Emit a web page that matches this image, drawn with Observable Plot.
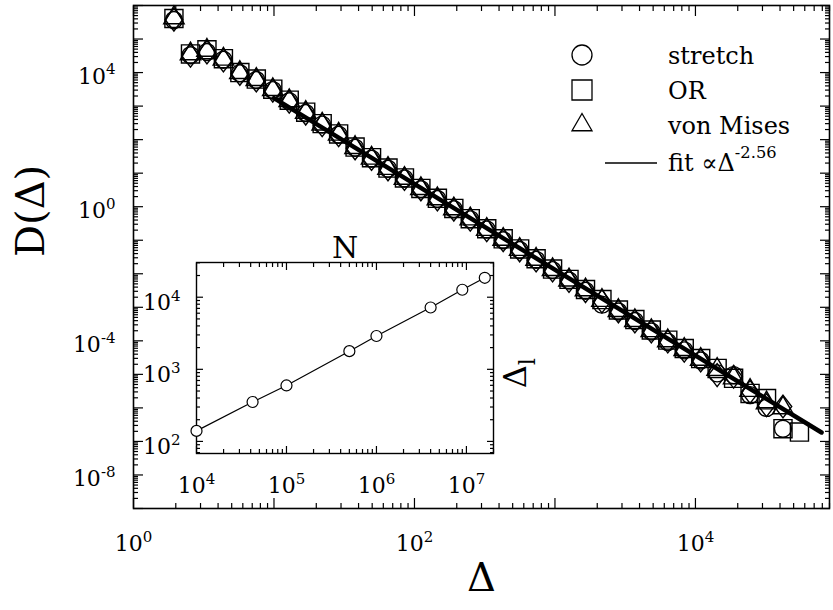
<!DOCTYPE html>
<html><head><meta charset="utf-8">
<script src="https://cdn.jsdelivr.net/npm/d3@7"></script>
<script src="https://cdn.jsdelivr.net/npm/@observablehq/plot@0.6"></script>
<style>
body{margin:0;background:#fff}
#wrap{position:relative;width:833px;height:610px;font-family:"DejaVu Serif",serif}
#wrap > svg{position:absolute;left:0;top:0}
</style></head><body><div id="wrap"></div>
<script>
// ---------------- data ----------------
const deltaBins = [1.94, 2.545, 3.333, 4.365, 5.716, 7.485, 9.806, 12.84, 16.82, 22.03, 28.85, 37.78, 49.48, 64.80, 84.86, 111.1, 145.6, 190.6, 249.6, 326.9, 428.1, 560.7, 734.3, 961.6, 1259, 1650, 2160, 2829, 3705, 4852, 6355, 8322, 10900, 14270, 18690, 24480, 32060, 41990, 55000];
const stretchD = [3.7e5, 3.3e4, 4.1e4, 2.4e4, 9.5e3, 6.0e3, 3.0e3, 1.4e3, 620, 280, 140, 57, 27, 13.5, 6.9, 3.3, 1.7, 0.84, 0.42, 0.21, 0.10, 0.051, 0.026, 0.0128, 6.3e-3, 3.1e-3, 1.2e-3, 7.5e-4, 3.9e-4, 1.9e-4, 9.3e-5, 5.2e-5, 2.6e-5, 1.07e-5, 9.5e-6, 2.4e-6, 1.0e-6, 2.4e-7];
const orD = [4.1e5, 3.6e4, 4.8e4, 2.6e4, 1.0e4, 6.4e3, 3.2e3, 1.5e3, 660, 300, 148, 60, 29, 14.2, 7.2, 3.5, 1.78, 0.89, 0.44, 0.22, 0.11, 0.055, 0.028, 0.0138, 6.8e-3, 3.4e-3, 1.7e-3, 8.3e-4, 4.3e-4, 2.1e-4, 1.05e-4, 5.9e-5, 2.95e-5, 1.5e-5, 7.6e-6, 2.7e-6, 1.9e-6, 2.4e-7, 1.9e-7];
const vonMisesD = [4.3e5, 3.6e4, 4.6e4, 2.5e4, 1.0e4, 6.2e3, 3.1e3, 1.45e3, 650, 290, 145, 58, 28, 13.8, 7.0, 3.45, 1.72, 0.86, 0.43, 0.21, 0.106, 0.053, 0.027, 0.0133, 6.5e-3, 3.3e-3, 1.6e-3, 8.0e-4, 4.0e-4, 2.0e-4, 1.0e-4, 5.5e-5, 2.8e-5, 1.4e-5, 7.8e-6, 3.3e-6, 1.4e-6, 1.0e-6];
const otherD = [3.8e5, 3.2e4, 4.0e4, 2.3e4, 9.2e3, 5.8e3, 2.9e3, 1.35e3, 600, 270, 135, 55, 26.5, 13, 6.7, 3.3, 1.64, 0.82, 0.41, 0.20, 0.100, 0.050, 0.025, 0.0125, 6.1e-3, 3.05e-3, 1.5e-3, 7.6e-4, 3.8e-4, 1.9e-4, 9.6e-5, 5.1e-5, 2.6e-5, 9.5e-6, 8.5e-6, 3.0e-6, 1.2e-6, 1.1e-6];
const fitDelta = [10, 7.9e4];
const fitD = [1.72e3, 1.85e-7];
const xTickLabelsMain = [1, 1e2, 1e4];
const yTickLabelsMain = [1e-8, 1e-4, 1, 1e4];
const insetN = [1e4, 4.2e4, 1e5, 5e5, 1e6, 4e6, 9e6, 1.6e7];
const insetDl = [140, 352, 597, 1786, 2900, 7200, 12700, 18600];
const insetXLabels = [1e4, 1e5, 1e6, 1e7];
const insetYLabels = [1e2, 1e3, 1e4];
const legendLabels = ["stretch", "OR", "von Mises", "fit \u221D\u0394^-2.56"];

// ---------------- helpers ----------------
const W = 833, H = 610;
const powFmt = d => "10^" + Math.round(Math.log10(d));
const decades = (lo, hi) => d3.range(lo, hi + 1).map(e => Math.pow(10, e));
const minorTicks = (lo, hi) => d3.range(lo, hi).flatMap(e => d3.range(2, 10).map(m => m * Math.pow(10, e)));
const within = (arr, [a, b]) => arr.filter(v => v >= a * 0.999 && v <= b * 1.001);
const diamondSym = {draw(ctx, size) {const s = Math.sqrt(size); const hh = 0.68 * s, hw = 0.52 * s; ctx.moveTo(0, -hh); ctx.lineTo(hw, 0); ctx.lineTo(0, hh); ctx.lineTo(-hw, 0); ctx.closePath();}};

function tickAxes(xd, yd, major, minor) {
  const st = {stroke: "black", strokeWidth: 1.2, fill: "none", label: null};
  const xM = within(decades(-12, 12), xd), xm = within(minorTicks(-12, 12), xd);
  const yM = within(decades(-12, 12), yd), ym = within(minorTicks(-12, 12), yd);
  return [
    Plot.axisX({...st, anchor: "bottom", ticks: xM, tickSize: -major}),
    Plot.axisX({...st, anchor: "top", ticks: xM, tickSize: -major}),
    Plot.axisX({...st, anchor: "bottom", ticks: xm, tickSize: -minor}),
    Plot.axisX({...st, anchor: "top", ticks: xm, tickSize: -minor}),
    Plot.axisY({...st, anchor: "left", ticks: yM, tickSize: -major}),
    Plot.axisY({...st, anchor: "right", ticks: yM, tickSize: -major}),
    Plot.axisY({...st, anchor: "left", ticks: ym, tickSize: -minor}),
    Plot.axisY({...st, anchor: "right", ticks: ym, tickSize: -minor})
  ];
}

function richText(svg, supSize, supRaise) {
  svg.querySelectorAll("text").forEach(t => {
    const s = t.textContent;
    let m = s.match(/^(.*?)\^(.+)$/);
    let sub = false;
    if (!m) { m = s.match(/^(.*?)_(.+)$/); sub = true; }
    if (!m) return;
    const fs = parseFloat(getComputedStyle(t).fontSize) || 22;
    while (t.firstChild) t.removeChild(t.firstChild);
    const a = document.createElementNS("http://www.w3.org/2000/svg", "tspan");
    a.textContent = m[1];
    const b = document.createElementNS("http://www.w3.org/2000/svg", "tspan");
    b.textContent = m[2];
    b.setAttribute("font-size", (fs * (sub ? 0.7 : supSize)).toFixed(1));
    b.setAttribute("dy", (sub ? fs * 0.3 : -fs * supRaise).toFixed(1));
    t.appendChild(a); t.appendChild(b);
  });
}

const rows = (xs, ys) => ys.map((v, i) => ({x: xs[i], y: v}));
const xDomMain = [1, 9e4], yDomMain = [1e-9, 1e6];
const mk = {stroke: "black", strokeWidth: 1.4, fill: "none"};

// ---------------- main chart ----------------
const main = Plot.plot({
  width: W, height: H,
  marginLeft: 133, marginTop: 5, marginRight: 4, marginBottom: 102,
  style: {fontFamily: '"DejaVu Serif", serif', fontSize: "22px", color: "black", background: "transparent"},
  x: {type: "log", domain: xDomMain},
  y: {type: "log", domain: yDomMain},
  marks: [
    ...tickAxes(xDomMain, yDomMain, 10, 5),
    Plot.frame({stroke: "black", strokeWidth: 1.6}),
    Plot.axisX({anchor: "bottom", ticks: xTickLabelsMain, tickSize: 0, tickPadding: 27, tickFormat: powFmt, label: null, stroke: "none"}),
    Plot.axisY({anchor: "left", ticks: yTickLabelsMain, tickSize: 0, tickPadding: 18, tickFormat: powFmt, label: null, stroke: "none", dy: 4}),
    Plot.dot(rows(deltaBins, orD), {x: "x", y: "y", symbol: "square", r: 10.2, ...mk}),
    Plot.dot(rows(deltaBins, stretchD), {x: "x", y: "y", symbol: "circle", r: 8.5, ...mk}),
    Plot.dot(rows(deltaBins, vonMisesD), {x: "x", y: "y", symbol: "triangle", r: 7.6, ...mk}),
    Plot.dot(rows(deltaBins, otherD), {x: "x", y: "y", symbol: diamondSym, r: 9.5, ...mk}),
    Plot.line(rows(fitDelta, fitD), {x: "x", y: "y", stroke: "black", strokeWidth: 4.5}),
    Plot.text(["D(\u0394)"], {text: d => d, frameAnchor: "left", dx: -102, rotate: -90, fontSize: 40}),
    Plot.text(["\u0394"], {text: d => d, frameAnchor: "bottom", dy: 82, fontSize: 40})
  ]
});

// ---------------- inset ----------------
const xDomIn = [1e4, 2e7], yDomIn = [68, 3.03e4];
const inset = Plot.plot({
  width: W, height: H,
  marginLeft: 196, marginTop: 262, marginRight: 340, marginBottom: 157,
  style: {fontFamily: '"DejaVu Serif", serif', fontSize: "22px", color: "black", background: "transparent"},
  x: {type: "log", domain: xDomIn},
  y: {type: "log", domain: yDomIn},
  marks: [
    Plot.frame({fill: "white", stroke: "none"}),
    ...tickAxes(xDomIn, yDomIn, 7, 4),
    Plot.frame({stroke: "black", strokeWidth: 1.4}),
    Plot.axisX({anchor: "bottom", ticks: insetXLabels, tickSize: 0, tickPadding: 24, tickFormat: powFmt, label: null, stroke: "none"}),
    Plot.axisY({anchor: "left", ticks: insetYLabels, tickSize: 0, tickPadding: 16, tickFormat: powFmt, label: null, stroke: "none", dy: 6}),
    Plot.line(rows(insetN, insetDl), {x: "x", y: "y", stroke: "black", strokeWidth: 1.2}),
    Plot.dot(rows(insetN, insetDl), {x: "x", y: "y", r: 5.5, stroke: "black", strokeWidth: 1.2, fill: "white"}),
    Plot.text(["N"], {text: d => d, frameAnchor: "top", dy: -26, fontSize: 30}),
    Plot.text(["\u0394_l"], {text: d => d, frameAnchor: "right", dx: 22, rotate: -90, fontSize: 32})
  ]
});

const wrap = document.getElementById("wrap");
wrap.appendChild(main);
wrap.appendChild(inset);
richText(main, 0.68, 0.42);
richText(inset, 0.68, 0.42);

// ---------------- legend ----------------
const lg = d3.select(wrap).append("svg").attr("width", W).attr("height", H)
  .style("pointer-events", "none").style("font-family", '"DejaVu Serif", serif').style("font-size", "24px");
const symX = 582, symY = [55, 90, 125];
const syms = [d3.symbolCircle, d3.symbolSquare, d3.symbolTriangle];
const symSizes = [Math.PI * 100, 400, 20 * 20 * Math.sqrt(3) / 4];
syms.forEach((s, i) => {
  lg.append("path").attr("d", d3.symbol(s, symSizes[i])())
    .attr("transform", `translate(${symX},${symY[i]})`)
    .attr("fill", "none").attr("stroke", "black").attr("stroke-width", 1.3);
});
lg.append("line").attr("x1", 605).attr("x2", 657).attr("y1", 163).attr("y2", 163).attr("stroke", "black").attr("stroke-width", 1.4);
const textY = [64, 99, 134, 171];
legendLabels.forEach((l, i) => {
  lg.append("text").attr("x", 668).attr("y", textY[i]).attr("fill", "black").text(l);
});
richText(lg.node(), 0.68, 0.55);
</script></body></html>
